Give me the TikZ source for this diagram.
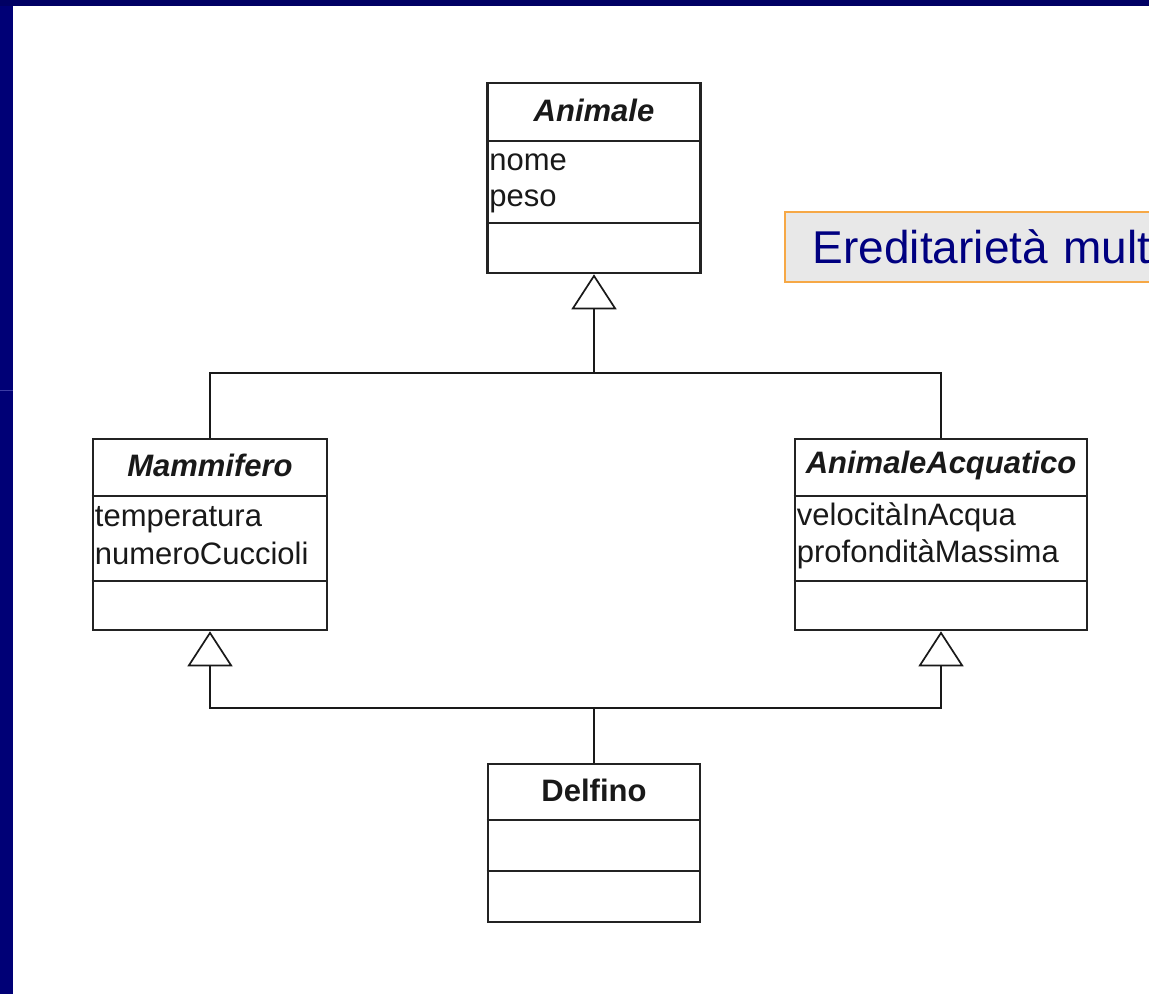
\documentclass[tikz,border=0pt]{standalone}
\usepackage{fontspec}
\setmainfont{Liberation Sans}
\usetikzlibrary{arrows.meta,calc}
\definecolor{navytop}{RGB}{0,0,100}
\definecolor{navyleft}{RGB}{0,0,118}
\definecolor{navyseam}{RGB}{60,60,165}
\definecolor{navytext}{RGB}{0,0,128}
\definecolor{umlline}{RGB}{35,35,35}
\definecolor{noteorange}{RGB}{246,168,70}
\definecolor{notegray}{RGB}{232,232,232}
\begin{document}
\begin{tikzpicture}[x=1pt,y=-1pt,
  umlclass/.style={draw=umlline, line width=2.6pt, fill=white, inner sep=0pt},
  umlrule/.style={draw=umlline, line width=2.4pt},
  umltitle/.style={inner sep=0pt, text=black!90, font=\fontsize{31}{36}\selectfont\bfseries},
  umlattr/.style={inner sep=0pt, anchor=base west, text=black!90, font=\fontsize{31}{36}\selectfont},
  conn/.style={draw=black!90, line width=2.4pt},
  gen/.style={conn, -{Triangle[open, length=35pt, width=45pt, line width=1.7pt]}},
  notebox/.style={draw=noteorange, line width=1.5pt, fill=notegray,
    minimum height=70pt, text width=500pt, inner xsep=28pt, align=left,
    text=navytext, font=\fontsize{46}{55}\selectfont}]
\useasboundingbox (0,0) rectangle (1149,994);
\clip (0,0) rectangle (1149,994);

% slide background and frame
\fill[white] (0,0) rectangle (1149,994);
\fill[navyleft] (0,0) rectangle (13,994);
\fill[navytop] (0,0) rectangle (1149,6);
\draw[navyseam, line width=0.8pt] (0,390) -- (13,390);

% classes
\node[umlclass, minimum width=213pt, minimum height=190pt] (ani) at (594,178) {};
\node[umlclass, minimum width=234pt, minimum height=191pt] (mam) at (210,534.5) {};
\node[umlclass, minimum width=292pt, minimum height=191pt] (aqu) at (941,534.5) {};
\node[umlclass, minimum width=212pt, minimum height=158pt] (del) at (594,843) {};

% compartment separators
\draw[umlrule] ($(ani.north west)+(0,59)$) -- ($(ani.north east)+(0,59)$);
\draw[umlrule] ($(ani.north west)+(0,141)$) -- ($(ani.north east)+(0,141)$);
\draw[umlrule] ($(mam.north west)+(0,58)$) -- ($(mam.north east)+(0,58)$);
\draw[umlrule] ($(mam.north west)+(0,143)$) -- ($(mam.north east)+(0,143)$);
\draw[umlrule] ($(aqu.north west)+(0,58)$) -- ($(aqu.north east)+(0,58)$);
\draw[umlrule] ($(aqu.north west)+(0,143)$) -- ($(aqu.north east)+(0,143)$);
\draw[umlrule] ($(del.north west)+(0,57)$) -- ($(del.north east)+(0,57)$);
\draw[umlrule] ($(del.north west)+(0,108)$) -- ($(del.north east)+(0,108)$);

% class names
\node[umltitle] (aniT) at ($(ani.north)+(0,29)$) {\itshape Animale};
\node[umltitle] (mamT) at ($(mam.north)+(0,28)$) {\itshape Mammifero};
\node[umltitle] (aquT) at ($(aqu.north)+(0,28)$) {\itshape AnimaleAcquatico};
\node[umltitle] (delT) at ($(del.north)+(0,28)$) {Delfino};

% attributes
\node[umlattr] (aniA1) at ($(ani.north west)+(3,89)$) {nome};
\node[umlattr] (aniA2) at ($(ani.north west)+(3,125)$) {peso};
\node[umlattr] (mamA1) at ($(mam.north west)+(3,89)$) {temperatura};
\node[umlattr] (mamA2) at ($(mam.north west)+(3,127)$) {numeroCuccioli};
\node[umlattr] (aquA1) at ($(aqu.north west)+(3,88)$) {velocitàInAcqua};
\node[umlattr] (aquA2) at ($(aqu.north west)+(3,125)$) {profonditàMassima};

% generalisations
\coordinate (hubtop) at (594,373);
\coordinate (hubbot) at (594,708);
\draw[gen] (mam.north) |- (hubtop) -- (ani.south);
\draw[conn] (aqu.north) |- (hubtop);
\draw[gen] (del.north) -- (hubbot) -| (mam.south);
\draw[gen] (hubbot) -| (aqu.south);

% caption box
\node[notebox, anchor=north west] (note) at (784,211) {Ereditarietà mult};
\end{tikzpicture}
\end{document}
